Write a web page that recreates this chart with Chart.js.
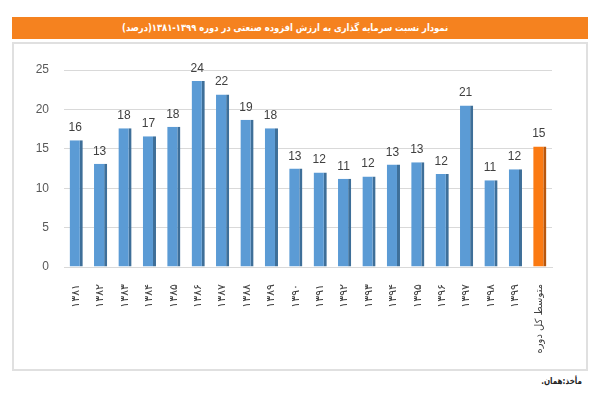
<!DOCTYPE html>
<html>
<head>
<meta charset="utf-8">
<script src="https://cdn.jsdelivr.net/npm/chart.js@4"></script>
<style>
  body { margin: 0; background: #fff; width: 600px; height: 400px; position: relative; overflow: hidden; }
  #titleBar {
    position: absolute; left: 12px; top: 17px; width: 576px; height: 22px;
    background: #f5821f; color: #fff; direction: rtl;
    font: bold 10px "DejaVu Sans", sans-serif; line-height: 22px;
    text-align: center; box-sizing: border-box; padding-right: 30px;
  }
  #titleBar span { display: inline-block; transform: scaleX(0.84); }
  #box {
    position: absolute; left: 12px; top: 42px; width: 576px; height: 329px;
    border: 2px solid #e0e0e0; box-sizing: border-box;
  }
  #source {
    position: absolute; right: 18px; top: 376px; direction: rtl;
    font: bold 9px "DejaVu Sans", sans-serif; color: #222;
    transform: scaleX(0.8); transform-origin: right center;
  }
  #wrap { position: absolute; left: 0; top: 0; width: 600px; height: 400px; }
</style>
</head>
<body>
<div id="titleBar"><span>نمودار نسبت سرمایه گذاری به ارزش افزوده صنعتی در دوره ۱۳۹۹-۱۳۸۱(درصد)</span></div>
<div id="box"></div>
<div id="source">مأخذ:همان.</div>
<div id="wrap"><canvas id="chart"></canvas></div>

<script>
/* ===== data ===== */
const years = ["۱۳۸۱", "۱۳۸۲", "۱۳۸۳", "۱۳۸۴", "۱۳۸۵", "۱۳۸۶", "۱۳۸۷", "۱۳۸۸", "۱۳۸۹", "۱۳۹۰",
               "۱۳۹۱", "۱۳۹۲", "۱۳۹۳", "۱۳۹۴", "۱۳۹۵", "۱۳۹۶", "۱۳۹۷", "۱۳۹۸", "۱۳۹۹", "متوسط کل دوره"];
const ratio = [16.1, 13.1, 17.6, 16.6, 17.8, 23.6, 21.9, 18.7, 17.6, 12.5,
               12.0, 11.2, 11.5, 13.0, 13.3, 11.8, 20.5, 11.0, 12.4, 15.3];
const yTicks = [0, 5, 10, 15, 20, 25];

const isAvg = (i) => i === years.length - 1;

/* value labels above bars */
const valueLabels = {
    id: "valueLabels",
    afterDatasetsDraw(chart) {
        const ctx = chart.ctx;
        const meta = chart.getDatasetMeta(0);
        ctx.save();
        ctx.font = "12px 'Liberation Sans', sans-serif";
        ctx.fillStyle = "#404040";
        ctx.textAlign = "center";
        ctx.textBaseline = "alphabetic";
        meta.data.forEach((bar, i) => {
            ctx.fillText(Math.round(ratio[i]), bar.x - 1, bar.y - 9);
        });
        ctx.restore();
    }
};

new Chart(document.getElementById("chart"), {
    type: "bar",
    data: {
        labels: years,
        datasets: [{
            data: ratio,
            backgroundColor: ratio.map((_, i) => isAvg(i) ? "#fb7a12" : "#5b9bd5"),
            borderColor: ratio.map((_, i) => isAvg(i) ? "#b8560c" : "#3e6f99"),
            borderWidth: { top: 0, right: 3, bottom: 0, left: 0 },
            borderSkipped: false,
            barPercentage: 0.54,
            categoryPercentage: 1.0
        }]
    },
    options: {
        responsive: true,
        maintainAspectRatio: false,
        animation: false,
        layout: { padding: { left: 14, right: 48, top: 70, bottom: 0 } },
        plugins: {
            legend: { display: false },
            tooltip: { enabled: false }
        },
        scales: {
            y: {
                min: 0,
                max: 25,
                afterFit: (s) => { s.width = 50; },
                afterBuildTicks: (s) => { s.ticks = yTicks.map(v => ({ value: v })); },
                grid: { color: "#d9d9d9", drawTicks: false },
                border: { display: false },
                ticks: {
                    padding: 15,
                    color: "#595959",
                    font: { family: "Liberation Sans", size: 12 }
                }
            },
            x: {
                afterFit: (s) => { s.height = 133; },
                grid: { display: false },
                border: { color: "#d9d9d9" },
                ticks: {
                    autoSkip: false,
                    minRotation: 90,
                    maxRotation: 90,
                    padding: 9,
                    color: "#404040",
                    font: (c) => ({ family: "DejaVu Sans", size: isAvg(c.index) ? 10 : 11 })
                }
            }
        }
    },
    plugins: [valueLabels]
});
</script>
</body>
</html>
